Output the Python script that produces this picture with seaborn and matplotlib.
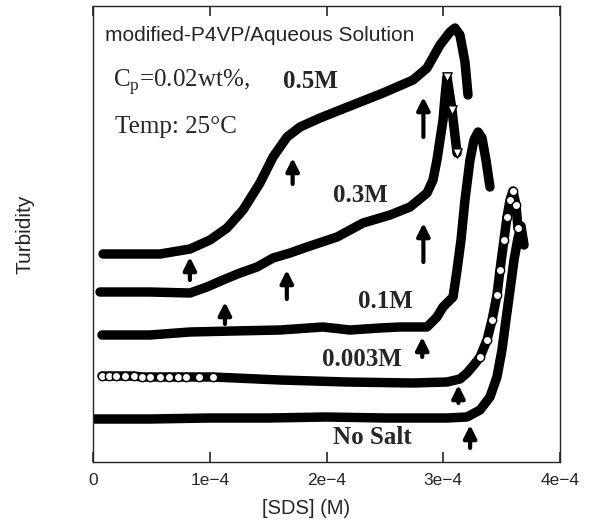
import matplotlib

matplotlib.use("Agg")
import matplotlib.pyplot as plt
import numpy as np
import pandas as pd
import seaborn as sns

# [SDS] en unidades de 1e-4 M, turbidez en unidades arbitrarias
sds_nosalt = [0.0, 0.497, 1.002, 1.499, 2.004, 2.501, 2.801, 3.032, 3.203, 3.315, 3.400, 3.460,
              3.503, 3.537, 3.572, 3.606, 3.640, 3.666, 3.692]
turb_nosalt = [0.43, 0.43, 0.44, 0.44, 0.45, 0.44, 0.44, 0.44, 0.45, 0.52, 0.65, 0.85,
               1.12, 1.42, 1.72, 2.02, 2.24, 2.36, 2.17]

sds_0003 = [0.077, 0.137, 0.197, 0.274, 0.351, 0.420, 0.488, 0.570, 0.651, 0.724, 0.797, 0.910,
            1.028, 1.602, 2.176, 2.741, 3.032, 3.143, 3.203, 3.255, 3.315, 3.375, 3.418, 3.460,
            3.486, 3.520, 3.546, 3.572, 3.597, 3.623, 3.640]
turb_0003 = [0.86, 0.86, 0.86, 0.86, 0.86, 0.85, 0.85, 0.85, 0.85, 0.85, 0.85, 0.85,
             0.85, 0.82, 0.80, 0.79, 0.80, 0.83, 0.89, 0.96, 1.05, 1.22, 1.42, 1.67,
             1.92, 2.22, 2.45, 2.62, 2.71, 2.57, 2.34]

sds_01 = [0.077, 0.488, 0.831, 1.199, 1.602, 1.970, 2.201, 2.458, 2.630, 2.861, 2.946, 2.998,
          3.084, 3.118, 3.152, 3.186, 3.229, 3.263, 3.298, 3.332, 3.366, 3.400]
turb_01 = [1.27, 1.27, 1.30, 1.31, 1.32, 1.35, 1.32, 1.34, 1.35, 1.35, 1.45, 1.55,
           1.65, 1.92, 2.22, 2.62, 3.02, 3.22, 3.30, 3.24, 3.02, 2.75]

sds_03 = [0.060, 0.488, 0.831, 0.976, 1.113, 1.259, 1.405, 1.542, 1.687, 1.833, 2.090, 2.313,
          2.544, 2.715, 2.861, 2.912, 2.946, 2.972, 2.998, 3.015, 3.032, 3.075, 3.118]
turb_03 = [1.70, 1.70, 1.69, 1.75, 1.82, 1.89, 1.95, 2.04, 2.09, 2.15, 2.25, 2.39,
           2.47, 2.55, 2.69, 2.82, 3.02, 3.22, 3.42, 3.65, 3.85, 3.52, 3.09]

sds_05 = [0.086, 0.574, 0.831, 1.002, 1.148, 1.285, 1.430, 1.542, 1.662, 1.773, 1.944, 2.116,
          2.484, 2.741, 2.861, 2.972, 3.058, 3.101, 3.143, 3.186, 3.212]
turb_05 = [2.08, 2.08, 2.13, 2.22, 2.34, 2.52, 2.79, 3.05, 3.25, 3.35, 3.44, 3.52,
           3.69, 3.82, 3.94, 4.17, 4.30, 4.34, 4.27, 4.00, 3.67]

# flechas: posicion x, cola y, punta y
arrow_x = [0.83, 1.71, 2.83, 1.13, 1.66, 2.83, 2.82, 3.13, 3.23]
arrow_tail = [1.82, 2.78, 3.25, 1.38, 1.63, 2.00, 1.05, 0.59, 0.14]
arrow_tip = [2.05, 3.04, 3.65, 1.60, 1.92, 2.39, 1.25, 0.77, 0.37]

xticks = [0, 1e-4, 2e-4, 3e-4, 4e-4]
xtick_labels = ["0", "1e\u22124", "2e\u22124", "3e\u22124", "4e\u22124"]

series = [
    ("No Salt", sds_nosalt, turb_nosalt),
    ("0.003M", sds_0003, turb_0003),
    ("0.1M", sds_01, turb_01),
    ("0.3M", sds_03, turb_03),
    ("0.5M", sds_05, turb_05),
]
df = pd.concat(
    [pd.DataFrame({"salt": name, "sds": np.array(x) * 1e-4, "turb": y}) for name, x, y in series],
    ignore_index=True,
)

sns.set_style("ticks")
plt.rcParams["font.family"] = ["Liberation Sans", "DejaVu Sans"]

fig = plt.figure(figsize=(5.9, 5.27), dpi=100)
ax = fig.add_axes([93 / 590, 65 / 527, 467 / 590, 456 / 527])

for name, _, _ in series:
    sub = df[df["salt"] == name]
    sns.lineplot(data=sub, x="sds", y="turb", sort=False, estimator=None, color="black",
                 linewidth=6.8, solid_capstyle="round", solid_joinstyle="round", ax=ax)

# marcadores abiertos (circulos en 0.003M, triangulos en 0.3M)
sub = df[(df["salt"] == "0.003M") & ((df["sds"] < 1.1e-4) | (df["sds"] > 3.3e-4))]
sns.scatterplot(data=sub, x="sds", y="turb", marker="o", s=36, facecolor="white",
                edgecolor="black", linewidth=1.0, ax=ax, zorder=3)
sub = df[(df["salt"] == "0.3M") & (df["sds"] > 3.02e-4)]
sns.scatterplot(data=sub, x="sds", y="turb", marker="v", s=45, facecolor="white",
                edgecolor="black", linewidth=1.0, ax=ax, zorder=3)

for x, y0, y1 in zip(arrow_x, arrow_tail, arrow_tip):
    ax.annotate("", xy=(x * 1e-4, y1), xytext=(x * 1e-4, y0),
                arrowprops=dict(arrowstyle="-|>", color="black", lw=3.0,
                                mutation_scale=19, shrinkA=0, shrinkB=0))

serif = ["Liberation Serif", "DejaVu Serif"]
ax.text(0.026, 0.936, "modified-P4VP/Aqueous Solution", transform=ax.transAxes,
        fontsize=15, va="center", ha="left")
ax.text(0.043, 0.833, r"C$_\mathregular{p}$=0.02wt%,", transform=ax.transAxes,
        fontsize=18, va="center", ha="left", family=serif)
ax.text(0.047, 0.735, "Temp: 25\u00b0C", transform=ax.transAxes,
        fontsize=18, va="center", ha="left", family=serif)
labels = [("0.5M", 310, 82), ("0.3M", 360, 196), ("0.1M", 385, 301),
          ("0.003M", 362, 360), ("No Salt", 372, 438)]
for lab, px, py in labels:
    ax.text((px - 93) / 467, (462 - py) / 456, lab, transform=ax.transAxes,
            fontsize=18, fontweight="bold", va="center", ha="center", family=serif)

ax.set_xlim(0, 4e-4)
ax.set_ylim(0, 4.56)
ax.set_xticks(xticks)
ax.set_xticklabels(xtick_labels)
ax.set_yticks([])
ax.tick_params(axis="x", direction="in", top=True, length=7, width=1.2, labelsize=12.5, pad=8)
ax.set_xlabel("[SDS] (M)", fontsize=14.5)
ax.set_ylabel("Turbidity", fontsize=15)
ax.xaxis.set_label_coords(0.456, -0.101)
ax.xaxis.label.set_va("center")
ax.yaxis.set_label_coords(-0.146, 0.5)
ax.yaxis.label.set_va("center")
for s in ax.spines.values():
    s.set_linewidth(1.0)

fig.savefig("out.png", dpi=100)
plt.close(fig)
